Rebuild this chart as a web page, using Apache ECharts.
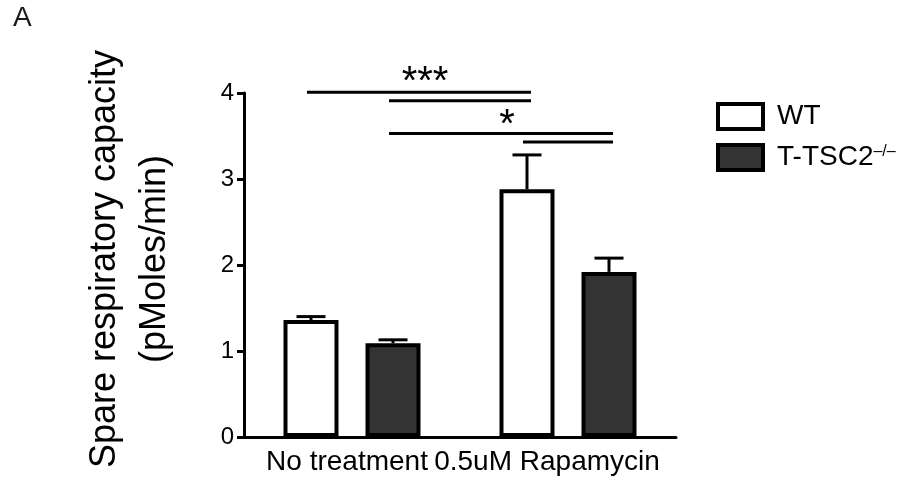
<!DOCTYPE html>
<html>
<head>
<meta charset="utf-8">
<script src="https://cdn.jsdelivr.net/npm/echarts@6/dist/echarts.min.js"></script>
<style>
  html, body { margin: 0; padding: 0; background: #fff; }
  #main { width: 913px; height: 484px; }
</style>
</head>
<body>
<div id="main"></div>
<script>
// values
const categories = ['No treatment', '0.5uM Rapamycin'];
const wtMean = [1.36, 2.88];
const wtSem = [0.04, 0.40];
const tscMean = [1.09, 1.92];
const tscSem = [0.04, 0.16];
const yTicks = { min: 0, max: 4, interval: 1 };

// significance brackets: [fromCategory, fromGroup, toCategory, toGroup, yValue]
// group 0 = WT, 1 = T-TSC2
const brackets = [
  [0, 0, 1, 0, 4.01],
  [0, 1, 1, 0, 3.91],
  [0, 1, 1, 1, 3.53],
  [1, 0, 1, 1, 3.43]
];
// stars: [text, bracket index, yValue]
const stars = [
  ['***', 0, 4.12],
  ['*', 2, 3.62]
];

const FONT = 'Liberation Sans, Arial, Helvetica, sans-serif';
const BAR_W = 55;
const BAR_GAP_PX = 27;
const OFFSET = (BAR_W + BAR_GAP_PX) / 2;
const CAP_W = 29;
const EXT = 4;

function groupX(api, cat, grp) {
  return api.coord([cat, 0])[0] + (grp === 0 ? -OFFSET : OFFSET);
}

const errData = [];
wtMean.forEach((m, i) => errData.push([i, m, wtSem[i], 0]));
tscMean.forEach((m, i) => errData.push([i, m, tscSem[i], 1]));

const chart = echarts.init(document.getElementById('main'));
chart.setOption({
  animation: false,
  backgroundColor: '#fff',
  textStyle: { fontFamily: FONT },
  title: {
    text: 'A',
    left: 13,
    top: 4,
    padding: 0,
    textStyle: { fontFamily: FONT, fontSize: 28, fontWeight: 'normal', color: '#1a1a1a' }
  },
  grid: { left: 244, right: 237, top: 93, bottom: 47, containLabel: false },
  legend: {
    orient: 'vertical',
    left: 716,
    top: 102,
    padding: 0,
    itemWidth: 45,
    itemHeight: 25,
    itemGap: 12,
    icon: 'rect',
    data: ['WT', 'T-TSC2'],
    itemStyle: { borderColor: '#000', borderWidth: 4 },
    formatter: name => name === 'T-TSC2' ? 'T-TSC2{sup|\u2013/\u2013}' : name,
    textStyle: {
      fontFamily: FONT,
      fontSize: 28,
      color: '#000',
      padding: [0, 0, 0, 9],
      rich: {
        sup: { fontFamily: FONT, fontSize: 16, color: '#000', verticalAlign: 'top', padding: [0, 0, 12, 0] }
      }
    }
  },
  xAxis: {
    type: 'category',
    data: categories,
    axisLine: { lineStyle: { color: '#000', width: 3 } },
    axisTick: { alignWithLabel: true, length: 9, lineStyle: { color: '#000', width: 3 } },
    axisLabel: {
      interval: 0,
      hideOverlap: false,
      margin: 11,
      color: '#000',
      fontFamily: FONT,
      fontSize: 28,
      formatter: (v, i) => i === 0 ? '{a|' + v + '}' : '{b|' + v + '}',
      rich: {
        a: { fontFamily: FONT, fontSize: 28, color: '#000', padding: [0, 10, 0, 0] },
        b: { fontFamily: FONT, fontSize: 28, color: '#000', padding: [0, 42, 0, 0] }
      }
    }
  },
  yAxis: {
    type: 'value',
    min: yTicks.min,
    max: yTicks.max,
    interval: yTicks.interval,
    name: 'Spare respiratory capacity\n(pMoles/min)',
    nameLocation: 'middle',
    nameRotate: 90,
    nameGap: 64,
    nameTextStyle: { fontFamily: FONT, fontSize: 36, lineHeight: 50, color: '#000', padding: [0, 0, 0, 12] },
    splitLine: { show: false },
    axisLine: { show: true, lineStyle: { color: '#000', width: 3 } },
    axisTick: { show: true, length: 7, lineStyle: { color: '#000', width: 3 } },
    axisLabel: { margin: 10, color: '#000', fontFamily: FONT, fontSize: 24 }
  },
  series: [
    {
      name: 'WT',
      type: 'bar',
      data: wtMean,
      barWidth: BAR_W,
      barGap: (BAR_GAP_PX / BAR_W * 100) + '%',
      itemStyle: { color: '#fff', borderColor: '#000', borderWidth: 4 }
    },
    {
      name: 'T-TSC2',
      type: 'bar',
      data: tscMean,
      barWidth: BAR_W,
      barGap: (BAR_GAP_PX / BAR_W * 100) + '%',
      itemStyle: { color: '#333', borderColor: '#000', borderWidth: 4 }
    },
    {
      name: 'errors',
      type: 'custom',
      data: errData,
      z: 3,
      silent: true,
      renderItem: (params, api) => {
        const cat = api.value(0);
        const mean = api.value(1);
        const sem = api.value(2);
        const grp = api.value(3);
        const x = groupX(api, cat, grp);
        const yBar = api.coord([cat, mean])[1];
        const yTop = api.coord([cat, mean + sem])[1];
        const style = { stroke: '#000', lineWidth: 3 };
        return {
          type: 'group',
          children: [
            { type: 'line', shape: { x1: x, y1: yBar, x2: x, y2: yTop }, style },
            { type: 'line', shape: { x1: x - CAP_W / 2, y1: yTop, x2: x + CAP_W / 2, y2: yTop }, style }
          ]
        };
      }
    },
    {
      name: 'brackets',
      type: 'custom',
      data: brackets,
      z: 3,
      silent: true,
      clip: false,
      renderItem: (params, api) => {
        const y = api.coord([0, api.value(4)])[1];
        const x1 = groupX(api, api.value(0), api.value(1)) - EXT;
        const x2 = groupX(api, api.value(2), api.value(3)) + EXT;
        return {
          type: 'line',
          shape: { x1: x1, y1: y, x2: x2, y2: y },
          style: { stroke: '#000', lineWidth: 3 }
        };
      }
    },
    {
      name: 'stars',
      type: 'custom',
      data: stars.map(s => [s[1], s[2]]),
      z: 3,
      silent: true,
      clip: false,
      renderItem: (params, api) => {
        const b = brackets[api.value(0)];
        const x1 = groupX(api, b[0], b[1]);
        const x2 = groupX(api, b[2], b[3]);
        const y = api.coord([0, api.value(1)])[1];
        return {
          type: 'text',
          style: {
            text: stars[params.dataIndex][0],
            x: (x1 + x2) / 2 + 6,
            y: y,
            align: 'center',
            verticalAlign: 'middle',
            fontFamily: FONT,
            fontSize: 40,
            fill: '#000'
          }
        };
      }
    }
  ]
});
</script>
</body>
</html>
